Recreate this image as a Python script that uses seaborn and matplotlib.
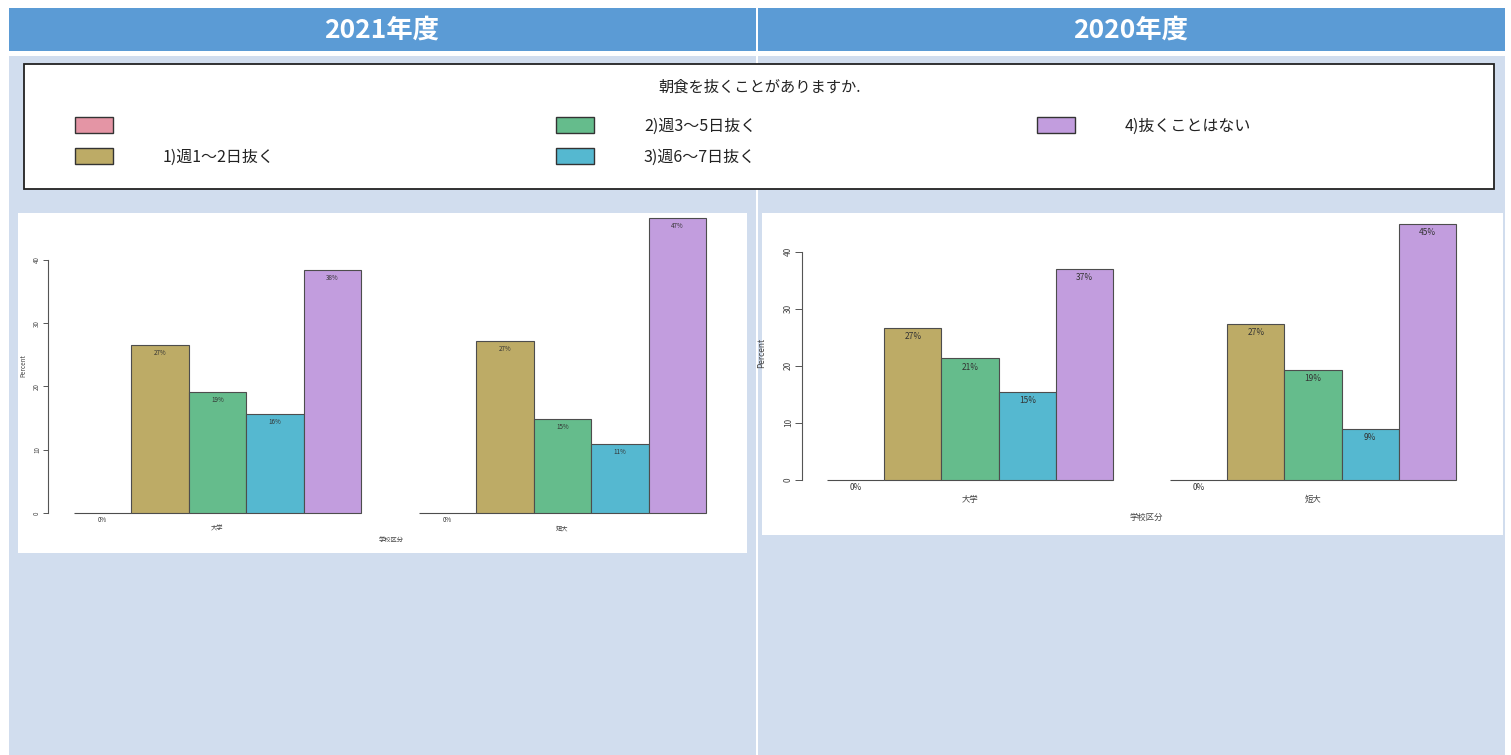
import numpy as np
import pandas as pd
import matplotlib
matplotlib.use("Agg")
import matplotlib.pyplot as plt
from matplotlib.patches import Rectangle
import seaborn as sns

# --- Data ---
question = "朝食を抜くことがありますか."
years = ["2021年度", "2020年度"]
schools = ["大学", "短大"]
answers = ["", "1)週1～2日抜く", "2)週3～5日抜く", "3)週6～7日抜く", "4)抜くことはない"]
colors = ["#E495A5", "#BDAB66", "#65BC8C", "#55B8D0", "#C29DDE"]

pct_2021_univ = [0, 26.6, 19.1, 15.6, 38.4]
pct_2021_junior = [0, 27.2, 14.9, 10.9, 46.6]
pct_2020_univ = [0, 26.6, 21.3, 15.4, 36.9]
pct_2020_junior = [0, 27.3, 19.3, 8.9, 44.8]
y_ticks = [0, 10, 20, 30, 40]

# --- Style ---
sns.set_theme(style="white")
plt.rcParams["font.family"] = ["Noto Sans CJK JP", "DejaVu Sans"]

W, H = 1511, 755
fig = plt.figure(figsize=(W / 100, H / 100), dpi=100, facecolor="white")


def px_axes(x0, y0, x1, y1):
    return fig.add_axes([x0 / W, 1 - y1 / H, (x1 - x0) / W, (y1 - y0) / H])


# --- Page background, headers, legend box ---
bg = px_axes(0, 0, W, H)
bg.set_xlim(0, W)
bg.set_ylim(H, 0)
bg.axis("off")

header_blue = "#5B9BD5"
panel_blue = "#D1DDEE"
for x0, title in zip([9, 758], years):
    bg.add_patch(Rectangle((x0, 8), 747, 43, color=header_blue, lw=0))
    bg.add_patch(Rectangle((x0, 56), 747, 700, color=panel_blue, lw=0))
    bg.text(x0 + 373, 30, title, color="white", fontsize=19, fontweight="bold",
            ha="center", va="center")

# chart panels
bg.add_patch(Rectangle((18, 213), 729, 340, color="white", lw=0))
bg.add_patch(Rectangle((762, 213), 741, 322, color="white", lw=0))

# legend box
bg.add_patch(Rectangle((24, 64), 1470, 125, facecolor="white", edgecolor="#222222", lw=1.3))
bg.text(760, 87, question, fontsize=11, ha="center", va="center", color="#222222")
legend_slots = [(75, 117), (75, 148), (556, 117), (556, 148), (1037, 117)]
for (sx, sy), label, col in zip(legend_slots, answers, colors):
    bg.add_patch(Rectangle((sx, sy), 38, 16, facecolor=col, edgecolor="#333333", lw=1.0))
    bg.text(sx + 88, sy + 9, label, fontsize=11.5, ha="left", va="center", color="#222222")


# --- Charts ---
def draw_chart(univ, junior, box, fs, tick_len, label_x, label_y, xpad, xlabpad, width):
    df = pd.DataFrame({
        "学校区分": np.repeat(schools, len(answers)),
        "回答": answers * len(schools),
        "Percent": univ + junior,
    })
    ax = px_axes(*box)
    sns.barplot(data=df, x="学校区分", y="Percent", hue="回答", hue_order=answers,
                palette=colors, saturation=1, width=width, edgecolor="#4D4D4D",
                linewidth=0.8, errorbar=None, legend=False, ax=ax)
    for p in ax.patches:
        p.set_clip_on(False)
    ax.patch.set_visible(False)
    for s in ["top", "right", "bottom"]:
        ax.spines[s].set_visible(False)
    ax.spines["left"].set_bounds(y_ticks[0], y_ticks[-1])
    ax.spines["left"].set_color("#555555")
    ax.spines["left"].set_linewidth(0.8)
    ax.set_yticks(y_ticks)
    ax.set_yticklabels([str(t) for t in y_ticks], rotation=90, va="center", fontsize=fs, color="#444444")
    ax.tick_params(axis="y", left=True, length=tick_len, width=0.7, color="#555555", pad=1.5)
    ax.tick_params(axis="x", length=0, pad=xpad, labelsize=fs, labelcolor="#444444")
    ax.set_xlabel("学校区分", fontsize=fs, color="#444444", labelpad=xlabpad)
    ax.set_ylabel("Percent", fontsize=fs, color="#444444")
    ax.yaxis.set_label_coords(label_x, label_y)
    for bars in ax.containers:
        for bar in bars:
            h = bar.get_height()
            cx = bar.get_x() + bar.get_width() / 2
            if h == 0:
                ax.annotate("0%", (cx, 0), xytext=(0, -2.5), textcoords="offset points",
                            ha="center", va="top", fontsize=fs, color="#333333", annotation_clip=False)
            else:
                ax.annotate(f"{h:.0f}%", (cx, h), xytext=(0, -3), textcoords="offset points",
                            ha="center", va="top", fontsize=fs, color="#333333")
    return ax


ax1 = draw_chart(pct_2021_univ, pct_2021_junior, (48, 213, 735, 513), 4.5, 3.5,
                 -0.03, 0.49, 8, 3, 0.832)
ax1.set_xlim(-0.491, 1.5)
ax1.set_ylim(0, 300 / 6.33)

ax2 = draw_chart(pct_2020_univ, pct_2020_junior, (802, 213, 1490, 480), 6, 5,
                 -0.052, 0.476, 11, 6, 0.834)
ax2.set_xlim(-0.49, 1.516)
ax2.set_ylim(0, 267 / 5.71)

fig.savefig("out.png", dpi=100, facecolor="white")
